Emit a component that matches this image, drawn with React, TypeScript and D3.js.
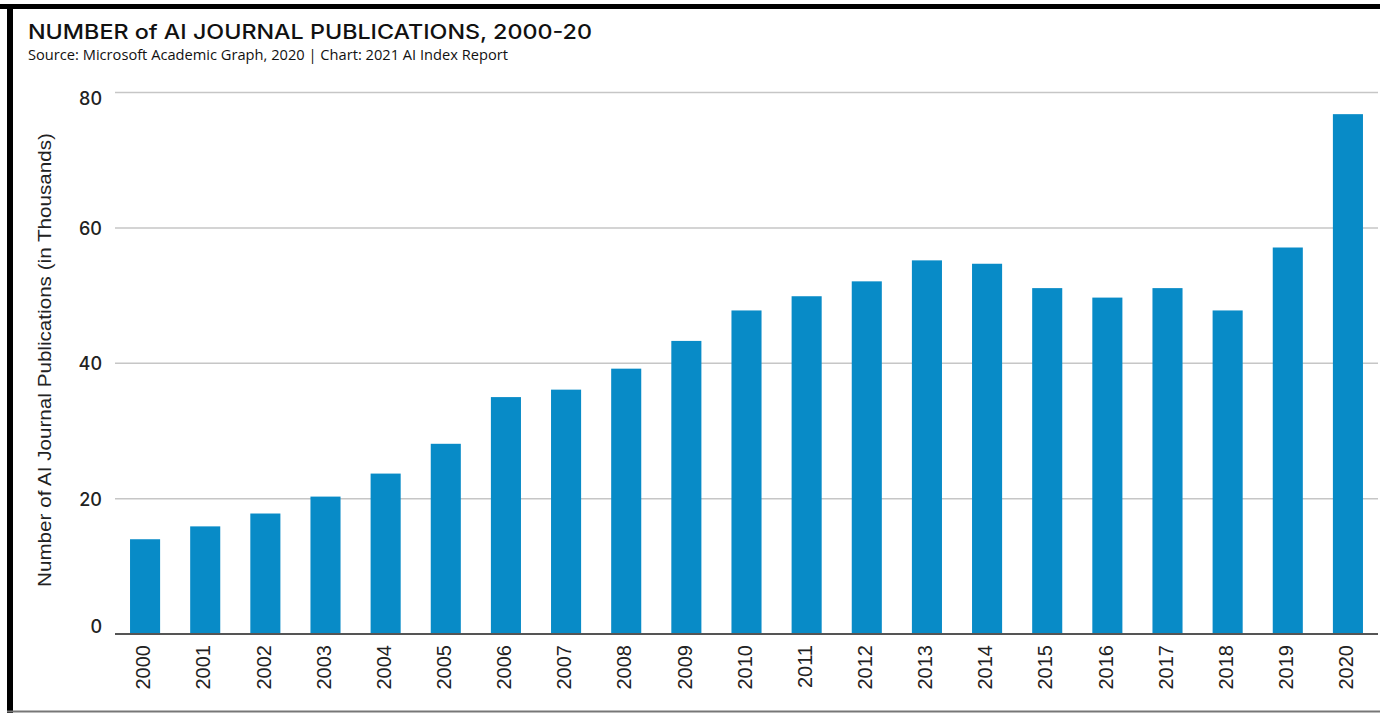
import React from "react";
import * as d3 from "d3";

const years = [
  "2000", "2001", "2002", "2003", "2004", "2005", "2006", "2007", "2008", "2009", "2010",
  "2011", "2012", "2013", "2014", "2015", "2016", "2017", "2018", "2019", "2020",
];
const publications = [
  14.0, 15.9, 17.8, 20.3, 23.7, 28.1, 35.0, 36.1, 39.2, 43.3, 47.8,
  49.9, 52.1, 55.2, 54.7, 51.1, 49.7, 51.1, 47.8, 57.1, 76.8,
];
const yTicks = [0, 20, 40, 60, 80];

const title = "NUMBER of AI JOURNAL PUBLICATIONS, 2000-20";
const subtitle = "Source: Microsoft Academic Graph, 2020 | Chart: 2021 AI Index Report";
const yTitle = "Number of AI Journal Publications (in Thousands)";

const W = 1380;
const H = 713;

export default function App() {
  const x = d3
    .scaleBand()
    .domain(years)
    .range([115, 1378])
    .paddingInner(0.5)
    .paddingOuter(0.25);

  const y = d3.scaleLinear().domain([0, 80]).range([634, 92.5]);

  return (
    <svg
      width={W}
      height={H}
      style={{ position: "absolute", left: 0, top: 0, display: "block", background: "#fff" }}
    >
      {/* frame */}
      <rect x={0} y={4} width={W} height={5} fill="#000" />
      <rect x={7} y={4} width={6} height={H - 4} fill="#000" />
      <line x1={7} x2={W} y1={711.5} y2={711.5} stroke="#777" strokeWidth={2} />

      <text
        x={28}
        y={39}
        fontFamily="Inter, 'Noto Sans', sans-serif"
        fontSize={20}
        fontWeight={500}
        fill="#111"
        textLength={564}
        lengthAdjust="spacingAndGlyphs"
      >
        {title}
      </text>
      <text
        x={28}
        y={60}
        fontFamily="'Open Sans', sans-serif"
        fontSize={14}
        fill="#111"
        textLength={480}
        lengthAdjust="spacingAndGlyphs"
      >
        {subtitle}
      </text>

      {/* grid */}
      {yTicks.map((t) => (
        <g key={t}>
          {t > 0 && (
            <line x1={115} x2={1378} y1={y(t)} y2={y(t)} stroke="#c6c6c6" strokeWidth={1.5} />
          )}
          <text
            x={102}
            y={y(t)}
            dy={t === 80 ? 8 : t === 0 ? -6 : 2}
            textAnchor="end"
            dominantBaseline="middle"
            fontFamily="Inter, sans-serif"
            fontSize={18}
            fontWeight={500}
            fill="#222"
          >
            {t}
          </text>
        </g>
      ))}

      {/* bars */}
      {years.map((yr, i) => (
        <rect
          key={yr}
          x={x(yr)}
          y={y(publications[i])}
          width={x.bandwidth()}
          height={y(0) - y(publications[i])}
          fill="#088bc7"
        />
      ))}

      <line x1={115} x2={1378} y1={y(0)} y2={y(0)} stroke="#555" strokeWidth={2} />

      {/* x labels */}
      {years.map((yr) => (
        <text
          key={yr}
          transform={`translate(${(x(yr) as number) + x.bandwidth() / 2},645) rotate(-90)`}
          textAnchor="end"
          dominantBaseline="middle"
          fontFamily="'Liberation Sans', Arial, sans-serif"
          fontSize={20}
          fill="#222"
        >
          {yr}
        </text>
      ))}

      <text
        transform={`translate(46,360) rotate(-90)`}
        textAnchor="middle"
        dominantBaseline="middle"
        fontFamily="'Liberation Sans', Arial, sans-serif"
        fontSize={18}
        fill="#222"
        textLength={454}
        lengthAdjust="spacingAndGlyphs"
      >
        {yTitle}
      </text>
    </svg>
  );
}
